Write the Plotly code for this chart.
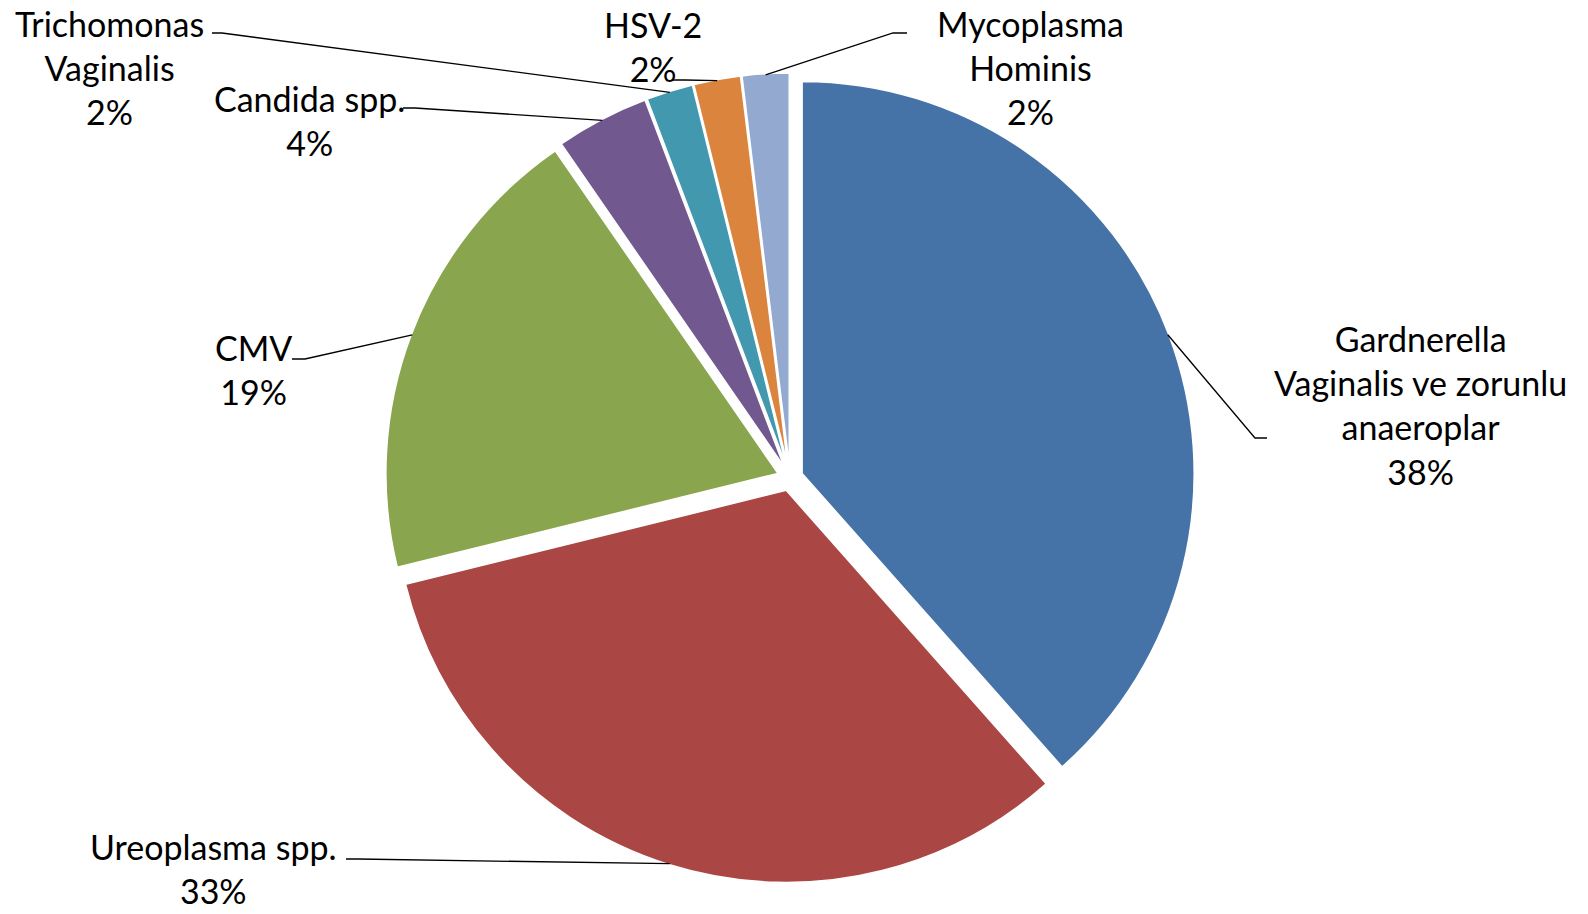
import math
import plotly.graph_objects as go

# ---- data ----
labels = ["Gardnerella Vaginalis ve zorunlu anaeroplar", "Ureoplasma spp.", "CMV",
          "Candida spp.", "Trichomonas Vaginalis", "HSV-2", "Mycoplasma Hominis"]
label_text = ["Gardnerella<br>Vaginalis ve zorunlu<br>anaeroplar",
              "Ureoplasma spp.", "CMV", "Candida spp.",
              "Trichomonas<br>Vaginalis", "HSV-2", "Mycoplasma<br>Hominis"]
values = [20, 17, 10, 2, 1, 1, 1]
colors = ["#4572A7", "#AA4643", "#89A54E", "#71588F", "#4198AF", "#DB843D", "#93A9CF"]

# ---- layout parameters ----
FW, FH = 1588, 914
PULL = 0.033
DOM_X = [0.20, 0.795]
DOM_Y = [0.0339, 0.9201]
FONT = dict(family="Lato, 'Open Sans', sans-serif", size=34, color="black")

# label block centres (px) and leader-line text-side points (px)
label_pos = [(1420, 405), (213, 868), (253, 369), (309, 120), (109, 68), (653, 46), (1030, 68)]
line_start = [[(1267, 438), (1255, 438)],
              [(346, 859), (358, 859)],
              [(292, 359), (305, 359)],
              [(403, 108), (415, 108)],
              [(212, 33), (222, 33)],
              [(672, 80), (685, 80)],
              [(907, 33), (893, 33)]]


def px(x):
    return x / FW


def py(y):
    return 1 - y / FH


fig = go.Figure(go.Pie(
    labels=labels, values=values, sort=False, direction="clockwise", rotation=0,
    pull=[PULL] * len(values), textinfo="none", hoverinfo="none",
    marker=dict(colors=colors, line=dict(color="white", width=1.5)),
    domain=dict(x=DOM_X, y=DOM_Y), showlegend=False,
))

# pie geometry as plotly computes it (px)
box_w = FW * (DOM_X[1] - DOM_X[0])
box_h = FH * (DOM_Y[1] - DOM_Y[0])
r = min(box_w, box_h) / 2 / (1 + PULL)
cx = FW * (DOM_X[0] + DOM_X[1]) / 2
cy = FH * (1 - DOM_Y[0]) - box_h / 2

total = sum(values)
cum = 0
annotations = []
shapes = []
for i, v in enumerate(values):
    pct = round(100 * v / total)
    mid = (cum + v / 2) / total * 2 * math.pi
    cum += v
    ax = cx + (r * (1 + PULL) - 1) * math.sin(mid)
    ay = cy - (r * (1 + PULL) - 1) * math.cos(mid)
    pts = line_start[i] + [(ax, ay)]
    path = "M " + " L ".join(f"{px(x):.5f},{py(y):.5f}" for x, y in pts)
    shapes.append(dict(type="path", xref="paper", yref="paper", path=path,
                       line=dict(color="black", width=1.3)))
    lx, ly = label_pos[i]
    annotations.append(dict(x=px(lx), y=py(ly), xref="paper", yref="paper",
                            text=f"{label_text[i]}<br>{pct}%", showarrow=False,
                            xanchor="center", yanchor="middle", align="center",
                            font=FONT, borderpad=0))

fig.update_layout(width=FW, height=FH, margin=dict(l=0, r=0, t=0, b=0),
                  paper_bgcolor="white", plot_bgcolor="white",
                  annotations=annotations, shapes=shapes)
fig.write_html("out.html", config={"displayModeBar": False},
               post_script="document.body.style.margin='0';document.body.style.overflow='hidden';")
